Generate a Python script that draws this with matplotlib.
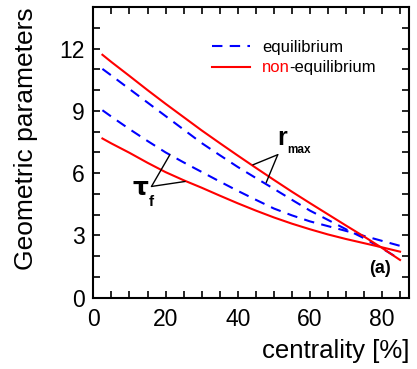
import matplotlib
matplotlib.use("Agg")
import matplotlib.pyplot as plt
from matplotlib.ticker import MultipleLocator

plt.rcParams['font.family'] = ['Liberation Sans', 'DejaVu Sans']

centrality = [2.5, 5, 10, 15, 20, 25, 30, 35, 40, 45, 50, 55, 60, 65, 70, 75, 80, 85]
rmax_eq = [11.02, 10.7, 10.05, 9.4, 8.75, 8.1, 7.45, 6.87, 6.3, 5.77, 5.25, 4.72,
           4.2, 3.75, 3.3, 2.87, 2.38, 1.85]
rmax_neq = [11.7, 11.35, 10.68, 10.0, 9.34, 8.7, 8.06, 7.45, 6.85, 6.26, 5.68, 5.11,
            4.56, 4.02, 3.48, 2.95, 2.4, 1.82]
tauf_eq = [9.03, 8.72, 8.12, 7.55, 7.0, 6.52, 6.06, 5.6, 5.15, 4.72, 4.3, 3.97,
           3.68, 3.45, 3.22, 2.98, 2.74, 2.5]
tauf_neq = [7.67, 7.43, 6.98, 6.5, 6.05, 5.66, 5.3, 4.92, 4.55, 4.2, 3.87, 3.57,
            3.3, 3.05, 2.83, 2.63, 2.43, 2.22]

xticks = [0, 20, 40, 60, 80]
yticks = [0, 3, 6, 9, 12]

fig = plt.figure(figsize=(4.17, 3.69), dpi=100)
ax = fig.add_axes([0.224, 0.193, 0.757, 0.788])

dash = (5, 3.5)
l_eq, = ax.plot(centrality, rmax_eq, color='#0000ff', lw=1.5, dashes=dash)
ax.plot(centrality, tauf_eq, color='#0000ff', lw=1.5, dashes=dash)
l_neq, = ax.plot(centrality, rmax_neq, color='#ff0000', lw=1.5)
ax.plot(centrality, tauf_neq, color='#ff0000', lw=1.5)

ax.set_xlim(0, 87.5)
ax.set_ylim(0, 14)
ax.set_xticks(xticks)
ax.set_yticks(yticks)
ax.xaxis.set_minor_locator(MultipleLocator(5))
ax.yaxis.set_minor_locator(MultipleLocator(1))
ax.tick_params(which='both', direction='in', top=True, right=True,
               length=5, width=1.2, labelsize=16.5)
ax.tick_params(axis='y', pad=6)
ax.tick_params(axis='x', pad=7)
for s in ax.spines.values():
    s.set_linewidth(1.5)

ax.set_xlabel('centrality [%]', fontsize=18.5, loc='right', labelpad=6)
ax.set_ylabel('Geometric parameters', fontsize=19, loc='top', labelpad=15.5)

leg = ax.legend([l_eq, l_neq], ['equilibrium', 'non'], loc='upper left',
                bbox_to_anchor=(0.376, 0.887), frameon=False, fontsize=12,
                borderpad=0, borderaxespad=0,
                handlelength=2.3, handletextpad=0.7, labelspacing=0.33)
t2 = leg.get_texts()[1]
t2.set_color('#ff0000')
fig.canvas.draw()
bb = t2.get_window_extent()
fig.text(bb.x1 - 1, bb.y0, '-equilibrium', transform=None, ha='left', va='bottom',
         fontsize=12, color='black')

# r_max annotation
ax.annotate('', xy=(44.2, 6.40), xytext=(51.1, 6.89),
            arrowprops=dict(arrowstyle='-', color='black', lw=1, shrinkA=0, shrinkB=0))
ax.annotate('', xy=(47.9, 5.55), xytext=(51.1, 6.89),
            arrowprops=dict(arrowstyle='-', color='black', lw=1, shrinkA=0, shrinkB=0))
ax.text(50.9, 7.35, 'r', fontsize=18, fontweight='bold', ha='left', va='baseline')
ax.text(53.6, 6.95, 'max', fontsize=8.5, fontweight='bold', ha='left', va='baseline')

# tau_f annotation
ax.annotate('', xy=(21.2, 6.89), xytext=(16.1, 5.36),
            arrowprops=dict(arrowstyle='-', color='black', lw=1, shrinkA=0, shrinkB=0))
ax.annotate('', xy=(25.4, 5.60), xytext=(16.1, 5.36),
            arrowprops=dict(arrowstyle='-', color='black', lw=1, shrinkA=0, shrinkB=0))
ax.text(13.0, 4.95, 'τ', fontsize=18, fontweight='bold', ha='center', va='baseline',
        family=['DejaVu Sans'])
ax.text(16.1, 4.4, 'f', fontsize=11, fontweight='bold', ha='center', va='baseline')

ax.text(79.5, 1.2, '(a)', fontsize=13, fontweight='bold', ha='center', va='baseline')

fig.savefig('out.png', dpi=100)
